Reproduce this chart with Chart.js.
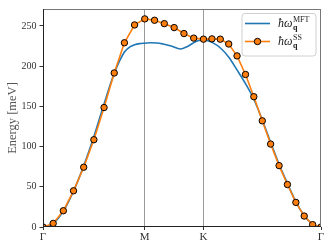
<!DOCTYPE html>
<html>
<head>
<meta charset="utf-8">
<script src="https://cdn.jsdelivr.net/npm/chart.js@4"></script>
<style>
html,body{margin:0;padding:0;background:#fff;}
canvas{display:block;}
</style>
</head>
<body>
<canvas id="c" width="332" height="249"></canvas>
<script>
// ---- data ----
const pathTickPos = [0, 1.0, 1.577, 2.732];
const pathTickLabels = ['Γ', 'M', 'K', 'Γ'];
const yTicks = [0, 50, 100, 150, 200, 250];

const ssX = [0, 0.1, 0.2, 0.3, 0.4, 0.5, 0.6, 0.7, 0.8, 0.9, 1.0,
  1.096, 1.192, 1.289, 1.385, 1.481, 1.577,
  1.660, 1.742, 1.825, 1.907, 1.990, 2.072, 2.155, 2.237, 2.320, 2.402, 2.485, 2.567, 2.650, 2.732];
const ssY = [0, 4.5, 20.2, 45, 74.3, 108.5, 148.5, 191.5, 229, 251.2, 258.7,
  257, 252.8, 247.9, 240.5, 234.8, 233.5,
  233.9, 233.5, 227.5, 212.7, 189.6, 162, 132, 103.1, 76.3, 52.8, 30.6, 13.6, 2.9, 0];

const mftX = [0, 0.05, 0.1, 0.2, 0.3, 0.4, 0.5, 0.6, 0.7, 0.8, 0.85, 0.9, 0.95, 1.0,
  1.06, 1.12, 1.18, 1.26, 1.35, 1.42, 1.48, 1.53, 1.579, 1.62, 1.662, 1.744, 1.826,
  1.908, 1.991, 2.073, 2.155, 2.238, 2.320, 2.403, 2.485, 2.567, 2.649, 2.69, 2.732];
const mftY = [0, 1, 4.3, 19.5, 44.5, 76, 112.5, 153, 191, 217.5, 223.5, 226.5, 228, 228.5,
  229, 228.8, 227.5, 225, 221.3, 224.5, 229, 231.8, 232.5, 231.5, 229.5, 222.5, 211,
  195, 178, 158.5, 133, 105, 78, 54, 31.5, 14, 3.5, 1, 0];

const BLUE = '#1f77b4';
const ORANGE = '#ff7f0e';
const SERIF = '"Liberation Serif", "DejaVu Serif", serif';

const framePlugin = {
  id: 'frame',
  afterDatasetsDraw(chart) {
    const {ctx, chartArea: a} = chart;
    ctx.save();
    ctx.lineWidth = 1;
    ctx.strokeStyle = '#777';
    ctx.beginPath();
    ctx.moveTo(a.left, a.top + 0.5); ctx.lineTo(a.right, a.top + 0.5);
    ctx.moveTo(a.right - 0.5, a.top); ctx.lineTo(a.right - 0.5, a.bottom);
    ctx.stroke();
    ctx.strokeStyle = '#222';
    ctx.beginPath();
    ctx.moveTo(a.left + 0.5, a.top); ctx.lineTo(a.left + 0.5, a.bottom);
    ctx.moveTo(a.left, a.bottom - 0.5); ctx.lineTo(a.right, a.bottom - 0.5);
    ctx.stroke();
    ctx.restore();
  },
  afterDraw(chart) {
    const ctx = chart.ctx;
    const bx = 242, by = 13.5, bw = 74, bh = 42.5, r = 3;
    ctx.save();
    ctx.beginPath();
    ctx.moveTo(bx + r, by);
    ctx.arcTo(bx + bw, by, bx + bw, by + bh, r);
    ctx.arcTo(bx + bw, by + bh, bx, by + bh, r);
    ctx.arcTo(bx, by + bh, bx, by, r);
    ctx.arcTo(bx, by, bx + bw, by, r);
    ctx.closePath();
    ctx.fillStyle = 'rgba(255,255,255,0.85)';
    ctx.fill();
    ctx.strokeStyle = '#d0d0d0';
    ctx.lineWidth = 1;
    ctx.stroke();

    const entries = [
      {color: BLUE, y: 23.5, marker: false, sup: 'MFT'},
      {color: ORANGE, y: 41.5, marker: true, sup: 'SS'}
    ];
    entries.forEach(e => {
      ctx.strokeStyle = e.color;
      ctx.lineWidth = 1.6;
      ctx.beginPath();
      ctx.moveTo(245, e.y); ctx.lineTo(270, e.y);
      ctx.stroke();
      if (e.marker) {
        ctx.beginPath();
        ctx.arc(257.5, e.y, 3.2, 0, Math.PI * 2);
        ctx.fillStyle = ORANGE; ctx.fill();
        ctx.strokeStyle = '#000'; ctx.lineWidth = 1; ctx.stroke();
      }
      ctx.fillStyle = '#222';
      ctx.textBaseline = 'alphabetic';
      ctx.textAlign = 'left';
      const base = e.y + 3.5;
      ctx.font = 'italic 12px ' + SERIF;
      ctx.fillText('ħω', 278, base);
      const w = ctx.measureText('ħω').width;
      ctx.font = 'bold 8px ' + SERIF;
      ctx.fillText('q', 278 + w + 0.5, base + 3);
      ctx.font = '8px ' + SERIF;
      ctx.fillText(e.sup, 278 + w + 0.5, base - 5);
    });
    ctx.restore();
  }
};

const chart = new Chart(document.getElementById('c'), {
  type: 'line',
  data: {
    datasets: [
      {
        label: 'SS',
        data: ssX.map((x, i) => ({x, y: ssY[i]})),
        borderColor: ORANGE,
        borderWidth: 1.6,
        pointRadius: 3.2,
        pointBackgroundColor: ORANGE,
        pointBorderColor: '#000',
        pointBorderWidth: 1,
        tension: 0,
        order: 0
      },
      {
        label: 'MFT',
        data: mftX.map((x, i) => ({x, y: mftY[i]})),
        borderColor: BLUE,
        borderWidth: 1.6,
        pointRadius: 0,
        cubicInterpolationMode: 'monotone',
        order: 1
      }
    ]
  },
  options: {
    responsive: false,
    devicePixelRatio: 1,
    animation: false,
    events: [],
    layout: {padding: {top: 8, right: 11, left: 0, bottom: 0}},
    plugins: {legend: {display: false}, tooltip: {enabled: false}},
    scales: {
      x: {
        type: 'linear',
        min: 0,
        max: 2.732,
        afterBuildTicks: s => { s.ticks = pathTickPos.map(v => ({value: v})); },
        afterFit: s => { s.height = 22; },
        ticks: {
          callback: (v, i) => pathTickLabels[i],
          font: {family: SERIF, size: 11},
          color: '#333',
          padding: 1,
          maxRotation: 0,
          autoSkip: false
        },
        grid: {
          drawOnChartArea: true,
          color: c => (c.index === 1 || c.index === 2) ? '#9a9a9a' : 'rgba(0,0,0,0)',
          lineWidth: 1,
          tickColor: '#333',
          tickLength: 3
        },
        border: {display: false}
      },
      y: {
        min: 0,
        max: 271,
        afterBuildTicks: s => { s.ticks = yTicks.map(v => ({value: v})); },
        afterFit: s => { s.width = 43; },
        ticks: {
          font: {family: SERIF, size: 10},
          color: '#333',
          padding: 3
        },
        grid: {
          drawOnChartArea: false,
          tickColor: '#333',
          tickLength: 3.5
        },
        border: {display: false},
        title: {
          display: true,
          text: 'Energy [meV]',
          font: {family: SERIF, size: 12.5},
          color: '#555',
          padding: {top: 5, bottom: 0}
        }
      }
    }
  },
  plugins: [framePlugin]
});
</script>
</body>
</html>
